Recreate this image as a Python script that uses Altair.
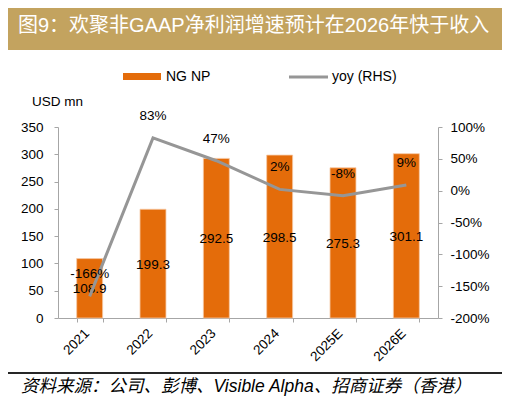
import altair as alt
import pandas as pd

# ---- data ----
years = ["2021", "2022", "2023", "2024", "2025E", "2026E"]
ng_np = [108.9, 199.3, 292.5, 298.5, 275.3, 301.1]
yoy = [-166, 83, 47, 2, -8, 9]
left_ticks = [0, 50, 100, 150, 200, 250, 300, 350]
right_ticks = [-200, -150, -100, -50, 0, 50, 100]

title_text = "图9：欢聚非GAAP净利润增速预计在2026年快于收入"
source_text = "资料来源：公司、彭博、Visible Alpha、招商证券（香港）"
unit_text = "USD mn"
legend_bar = "NG NP"
legend_line = "yoy (RHS)"

df = pd.DataFrame({"year": years, "np": ng_np, "yoy": yoy})
df["np_label"] = df["np"].map(lambda v: f"{v:.1f}")
df["yoy_label"] = df["yoy"].map(lambda v: f"{v}%")
df["np_mid"] = df["np"] / 2

FONT = "Liberation Sans, Noto Sans CJK SC"
ORANGE = "#E46C0A"
GRAY = "#969696"
AXIS = "#A6A6A6"
W, H = 380, 191
OX, OY = 58, 127  # page position of plot origin


def px(x):
    return x - OX


def py(y):
    return y - OY


base = alt.Chart(df)

xenc = alt.X(
    "year:N",
    sort=years,
    scale=alt.Scale(paddingInner=0.59, paddingOuter=0.295),
    axis=alt.Axis(
        title=None, labelAngle=-45, tickBand="extent", labelFont=FONT,
        labelFontSize=13.5, labelColor="#000000", domainColor=AXIS,
        tickColor=AXIS, tickSize=4, labelPadding=4, labelOffset=-8,
    ),
)

bars = base.mark_bar(color=ORANGE, stroke="#F6C9A6", strokeWidth=0.8).encode(
    x=xenc,
    y=alt.Y(
        "np:Q",
        scale=alt.Scale(domain=[0, 350]),
        axis=alt.Axis(
            orient="left", title=None, values=left_ticks, grid=False,
            labelFont=FONT, labelFontSize=13.5, labelColor="#000000",
            domainColor=AXIS, tickColor=AXIS, tickSize=4, labelPadding=11,
        ),
    ),
)

bar_labels = base.mark_text(font=FONT, fontSize=13.5, color="#000000", dy=1).encode(
    x=xenc,
    y=alt.Y("np_mid:Q", scale=alt.Scale(domain=[0, 350]), axis=None),
    text="np_label:N",
)

line = base.mark_line(color=GRAY, strokeWidth=3).encode(
    x=xenc,
    y=alt.Y(
        "yoy:Q",
        scale=alt.Scale(domain=[-200, 100]),
        axis=alt.Axis(
            orient="right", title=None, values=right_ticks, grid=False,
            labelExpr="datum.value + '%'", labelFont=FONT, labelFontSize=13.5,
            labelColor="#000000", domainColor=AXIS, tickColor=AXIS,
            tickSize=4, labelPadding=8,
        ),
    ),
)

line_labels = base.mark_text(font=FONT, fontSize=13.5, color="#000000", dy=-22).encode(
    x=xenc,
    y=alt.Y("yoy:Q", scale=alt.Scale(domain=[-200, 100]), axis=None),
    text="yoy_label:N",
)

one = pd.DataFrame({"t": [0]})

banner = alt.Chart(one).mark_rect(color="#C3A35F").encode(
    x=alt.value(px(5)), x2=alt.value(px(505)),
    y=alt.value(py(5)), y2=alt.value(py(50)),
)
title = alt.Chart(pd.DataFrame({"t": [title_text]})).mark_text(
    font=FONT, fontSize=20, color="#FFFFFF", align="left", baseline="middle"
).encode(x=alt.value(px(18)), y=alt.value(py(26)), text="t:N")

leg_rect = alt.Chart(one).mark_rect(color=ORANGE).encode(
    x=alt.value(px(123)), x2=alt.value(px(161)),
    y=alt.value(py(73)), y2=alt.value(py(80)),
)
leg_rect_t = alt.Chart(pd.DataFrame({"t": [legend_bar]})).mark_text(
    font=FONT, fontSize=14, color="#000000", align="left", baseline="middle"
).encode(x=alt.value(px(166)), y=alt.value(py(77)), text="t:N")
leg_line = alt.Chart(one).mark_rule(color=GRAY, strokeWidth=3).encode(
    x=alt.value(px(289)), x2=alt.value(px(328)), y=alt.value(py(77)),
)
leg_line_t = alt.Chart(pd.DataFrame({"t": [legend_line]})).mark_text(
    font=FONT, fontSize=14, color="#000000", align="left", baseline="middle"
).encode(x=alt.value(px(332)), y=alt.value(py(77)), text="t:N")

unit = alt.Chart(pd.DataFrame({"t": [unit_text]})).mark_text(
    font=FONT, fontSize=13.5, color="#000000", align="left", baseline="middle"
).encode(x=alt.value(px(32)), y=alt.value(py(102)), text="t:N")

foot_rule = alt.Chart(one).mark_rect(color="#262626").encode(
    x=alt.value(px(5)), x2=alt.value(px(505)),
    y=alt.value(py(372)), y2=alt.value(py(374)),
)
foot = alt.Chart(pd.DataFrame({"t": [source_text]})).mark_text(
    font=FONT, fontSize=17.5, fontStyle="italic", color="#000000",
    align="left", baseline="middle"
).encode(x=alt.value(px(21)), y=alt.value(py(387)), text="t:N")

chart = alt.layer(
    banner, title, leg_rect, leg_rect_t, leg_line, leg_line_t, unit,
    bars, bar_labels, line, line_labels, foot_rule, foot,
).resolve_scale(y="independent").properties(
    width=W, height=H,
    autosize=alt.AutoSizeParams(type="none"),
    padding={"left": 50, "top": 119, "right": 64, "bottom": 78},
    background="#FFFFFF",
).configure_view(stroke=None)

chart.save("out.html", embed_options={"renderer": "svg", "actions": False})
